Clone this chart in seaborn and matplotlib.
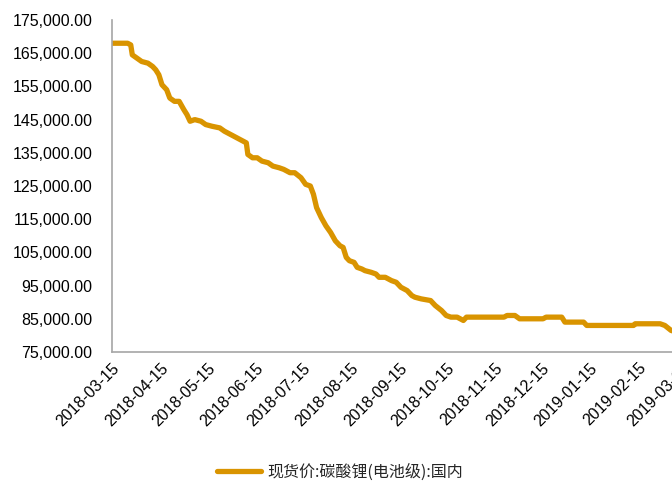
import matplotlib
matplotlib.use('Agg')
import matplotlib.pyplot as plt
import matplotlib.dates as mdates
import matplotlib.ticker as mticker
import pandas as pd
import seaborn as sns

# 现货价:碳酸锂(电池级):国内, values
dates = ['2018-03-15', '2018-03-25', '2018-03-27', '2018-03-28', '2018-03-31',
         '2018-04-03', '2018-04-07', '2018-04-10', '2018-04-12', '2018-04-14',
         '2018-04-16', '2018-04-19', '2018-04-21', '2018-04-24', '2018-04-27',
         '2018-04-30', '2018-05-02', '2018-05-04', '2018-05-07', '2018-05-11',
         '2018-05-14', '2018-05-18', '2018-05-23', '2018-05-26', '2018-05-30',
         '2018-06-03', '2018-06-07', '2018-06-09', '2018-06-10', '2018-06-13',
         '2018-06-16', '2018-06-19', '2018-06-23', '2018-06-26', '2018-06-30',
         '2018-07-03', '2018-07-07', '2018-07-10', '2018-07-14', '2018-07-17',
         '2018-07-20', '2018-07-22', '2018-07-24', '2018-07-27', '2018-07-30',
         '2018-08-02', '2018-08-05', '2018-08-08', '2018-08-10', '2018-08-12',
         '2018-08-14', '2018-08-17', '2018-08-19', '2018-08-22', '2018-08-24',
         '2018-08-28', '2018-08-31', '2018-09-02', '2018-09-06', '2018-09-10',
         '2018-09-13', '2018-09-16', '2018-09-20', '2018-09-23', '2018-09-25',
         '2018-09-29', '2018-10-05', '2018-10-08', '2018-10-12', '2018-10-15',
         '2018-10-18', '2018-10-22', '2018-10-26', '2018-10-28', '2018-11-21',
         '2018-11-23', '2018-11-28', '2018-12-01', '2018-12-16', '2018-12-18',
         '2018-12-28', '2018-12-30', '2019-01-11', '2019-01-13', '2019-01-18',
         '2019-02-12', '2019-02-13', '2019-03-01', '2019-03-04', '2019-03-08',
         '2019-03-15']
prices = [168000, 168000, 167500, 164500, 163500,
          162500, 162000, 161000, 160000, 158500,
          155500, 154000, 151500, 150500, 150500,
          148000, 146500, 144500, 145000, 144500,
          143500, 143000, 142500, 141500, 140500,
          139500, 138500, 138000, 134500, 133500,
          133500, 132500, 132000, 131000, 130500,
          130000, 129000, 129000, 127500, 125500,
          125000, 122500, 118500, 115500, 113000,
          111000, 108500, 107000, 106500, 103500,
          102500, 102000, 100500, 100000, 99500,
          99000, 98500, 97500, 97500, 96500,
          96000, 94500, 93500, 92000, 91500,
          91000, 90500, 89000, 87500, 86000,
          85500, 85500, 84500, 85500, 85500,
          86000, 86000, 85000, 85000, 85500,
          85500, 84000, 84000, 83000, 83000,
          83000, 83500, 83500, 83000, 81500,
          80500]
series_name = '现货价:碳酸锂(电池级):国内'
tick_dates = ['2018-03-15', '2018-04-15', '2018-05-15', '2018-06-15', '2018-07-15',
              '2018-08-15', '2018-09-15', '2018-10-15', '2018-11-15', '2018-12-15',
              '2019-01-15', '2019-02-15', '2019-03-15']
y_ticks = [75000, 85000, 95000, 105000, 115000, 125000,
           135000, 145000, 155000, 165000, 175000]

df = pd.DataFrame({'date': pd.to_datetime(dates), 'price': prices})

sns.set_style('white')
plt.rcParams['font.family'] = ['Liberation Sans', 'DejaVu Sans']

fig = plt.figure(figsize=(6.72, 4.87), dpi=100)
ax = fig.add_axes([112/672, 1 - 352/487, 570/672, 332/487])

sns.lineplot(data=df, x='date', y='price', ax=ax, color='#D99400',
             linewidth=3.8, label=series_name, legend=False)

ax.set_xlim(pd.Timestamp('2018-03-15'), pd.Timestamp('2019-03-15'))
ax.set_ylim(75000, 175000)
ax.set_yticks(y_ticks)
ax.yaxis.set_major_formatter(mticker.StrMethodFormatter('{x:,.2f}'))
ax.set_xticks(pd.to_datetime(tick_dates))
ax.xaxis.set_major_formatter(mdates.DateFormatter('%Y-%m-%d'))
plt.setp(ax.get_xticklabels(), rotation=45, ha='right', rotation_mode='anchor')
ax.tick_params(axis='both', length=0, labelsize=11.5, colors='black')
ax.tick_params(axis='y', pad=14)
ax.tick_params(axis='x', pad=6)
ax.set_xlabel('')
ax.set_ylabel('')

for s in ['top', 'right']:
    ax.spines[s].set_visible(False)
for s in ['left', 'bottom']:
    ax.spines[s].set_color('#A6A6A6')
    ax.spines[s].set_linewidth(1.2)

h, l = ax.get_legend_handles_labels()
fig.legend(h, l, loc='center', bbox_to_anchor=(340/672, 1 - 472/487),
           frameon=False, handlelength=2.8, handletextpad=0.4,
           prop={'family': ['Noto Sans CJK SC', 'DejaVu Sans'], 'size': 11.5})

fig.savefig('out.png', dpi=100)
